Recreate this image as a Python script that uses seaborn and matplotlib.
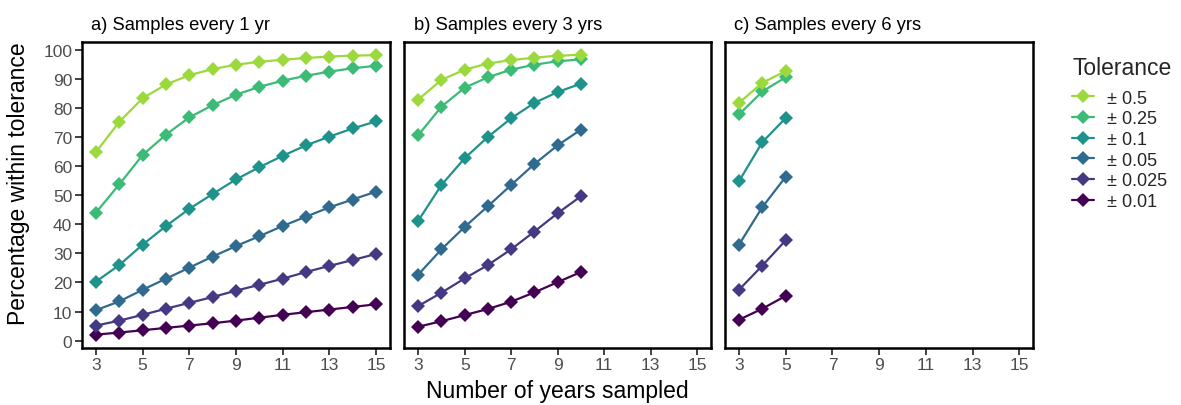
import numpy as np
import pandas as pd
import matplotlib
matplotlib.use("Agg")
import matplotlib.pyplot as plt
import seaborn as sns
from matplotlib.lines import Line2D

tolerances = ["± 0.5", "± 0.25", "± 0.1", "± 0.05", "± 0.025", "± 0.01"]
panel_titles = ["a) Samples every 1 yr", "b) Samples every 3 yrs", "c) Samples every 6 yrs"]

years_a = [3, 4, 5, 6, 7, 8, 9, 10, 11, 12, 13, 14, 15]
vals_a = {
    "± 0.5":   [64.8, 75.2, 83.3, 88.0, 91.2, 93.3, 94.8, 95.8, 96.5, 97.1, 97.6, 97.9, 98.1],
    "± 0.25":  [44.0, 53.7, 63.8, 70.8, 76.7, 80.9, 84.5, 87.2, 89.3, 91.0, 92.4, 93.6, 94.4],
    "± 0.1":   [20.3, 26.0, 33.0, 39.4, 45.3, 50.4, 55.4, 59.6, 63.5, 67.1, 70.1, 72.9, 75.3],
    "± 0.05":  [10.5, 13.5, 17.5, 21.3, 25.1, 28.9, 32.5, 35.9, 39.4, 42.6, 45.8, 48.5, 51.2],
    "± 0.025": [5.2, 6.9, 8.9, 11.0, 13.0, 15.0, 17.2, 19.2, 21.3, 23.6, 25.7, 27.7, 29.8],
    "± 0.01":  [2.1, 2.8, 3.6, 4.4, 5.2, 6.0, 6.9, 7.9, 8.9, 9.8, 10.7, 11.6, 12.5],
}

years_b = [3, 4, 5, 6, 7, 8, 9, 10]
vals_b = {
    "± 0.5":   [82.8, 89.6, 93.1, 95.2, 96.4, 97.2, 97.9, 98.2],
    "± 0.25":  [70.6, 80.4, 86.9, 90.5, 93.1, 94.8, 96.0, 96.6],
    "± 0.1":   [41.2, 53.5, 62.7, 70.0, 76.4, 81.7, 85.4, 88.3],
    "± 0.05":  [22.7, 31.4, 39.1, 46.2, 53.5, 60.7, 67.1, 72.5],
    "± 0.025": [11.9, 16.5, 21.4, 26.0, 31.4, 37.5, 43.8, 49.6],
    "± 0.01":  [4.8, 6.7, 8.8, 10.9, 13.4, 16.6, 20.1, 23.6],
}

years_c = [3, 4, 5]
vals_c = {
    "± 0.5":   [81.7, 88.6, 92.6],
    "± 0.25":  [77.7, 85.6, 90.5],
    "± 0.1":   [54.8, 68.2, 76.5],
    "± 0.05":  [33.0, 45.9, 56.3],
    "± 0.025": [17.5, 25.8, 34.5],
    "± 0.01":  [7.2, 11.0, 15.4],
}

x_ticks = [3, 5, 7, 9, 11, 13, 15]
y_ticks = [0, 10, 20, 30, 40, 50, 60, 70, 80, 90, 100]

sns.set_theme(style="white")
plt.rcParams["font.family"] = ["Liberation Sans", "DejaVu Sans"]

cmap = matplotlib.colormaps["viridis"]
cols = [cmap(v) for v in np.linspace(0, 0.85, len(tolerances))][::-1]
palette = dict(zip(tolerances, cols))

def to_df(years, vals):
    rows = []
    for t in tolerances:
        for x, y in zip(years, vals[t]):
            rows.append({"years": x, "pct": y, "tol": t})
    return pd.DataFrame(rows)

panels = [to_df(years_a, vals_a), to_df(years_b, vals_b), to_df(years_c, vals_c)]

fig = plt.figure(figsize=(11.81, 4.06), dpi=100)
H = 406.0
W = 1181.0
lefts = [82, 404.3, 725]
rights = [390, 711, 1033.3]
top, bottom = 42.7, 348.7
axes = []
for l, r in zip(lefts, rights):
    ax = fig.add_axes([l / W, 1 - bottom / H, (r - l) / W, (bottom - top) / H])
    axes.append(ax)

for i, (ax, df) in enumerate(zip(axes, panels)):
    sns.lineplot(data=df, x="years", y="pct", hue="tol", hue_order=tolerances[::-1],
                 palette=palette, marker="D", markersize=7.5, markeredgewidth=0,
                 linewidth=1.6, ax=ax, legend=False)
    ax.set_xlim(2.4, 15.6)
    ax.set_ylim(-2.4, 102.7)
    ax.set_xticks(x_ticks)
    ax.set_xticklabels([str(t) for t in x_ticks])
    ax.set_yticks(y_ticks)
    if i == 0:
        ax.set_yticklabels([str(t) for t in y_ticks])
        ax.tick_params(axis="y", left=True, length=5, width=1.3, color="#333333",
                       labelsize=12.5, labelcolor="#4d4d4d", pad=2)
    else:
        ax.set_yticklabels([])
        ax.tick_params(axis="y", left=False)
    ax.tick_params(axis="x", bottom=True, length=5, width=1.3, color="#333333",
                   labelsize=12.5, labelcolor="#4d4d4d", pad=2)
    ax.set_xlabel("")
    ax.set_ylabel("")
    for s in ax.spines.values():
        s.set_visible(True)
        s.set_color("black")
        s.set_linewidth(1.8)
    ax.set_title(panel_titles[i], loc="left", fontsize=13.2, pad=9, x=0.03, color="black")

fig.text(557 / W, 1 - 392 / H, "Number of years sampled", ha="center", va="center",
         fontsize=16.5, color="black")
fig.text(19 / W, 1 - 184 / H, "Percentage within tolerance", ha="center", va="center",
         rotation=90, fontsize=16.5, color="black")

handles = [Line2D([0], [0], color=palette[t], marker="D", markersize=7.5, markeredgewidth=0,
                  linewidth=1.6) for t in tolerances]
leg = fig.legend(handles, tolerances, title="Tolerance", loc="upper left",
                 bbox_to_anchor=(1056 / W, 1 - 41 / H), frameon=False,
                 fontsize=13, title_fontsize=16.5, handlelength=1.2, handletextpad=0.7,
                 labelspacing=0.2)
leg._legend_box.align = "left"
leg._legend_box.sep = 7.6

fig.savefig("out.png", dpi=100)
